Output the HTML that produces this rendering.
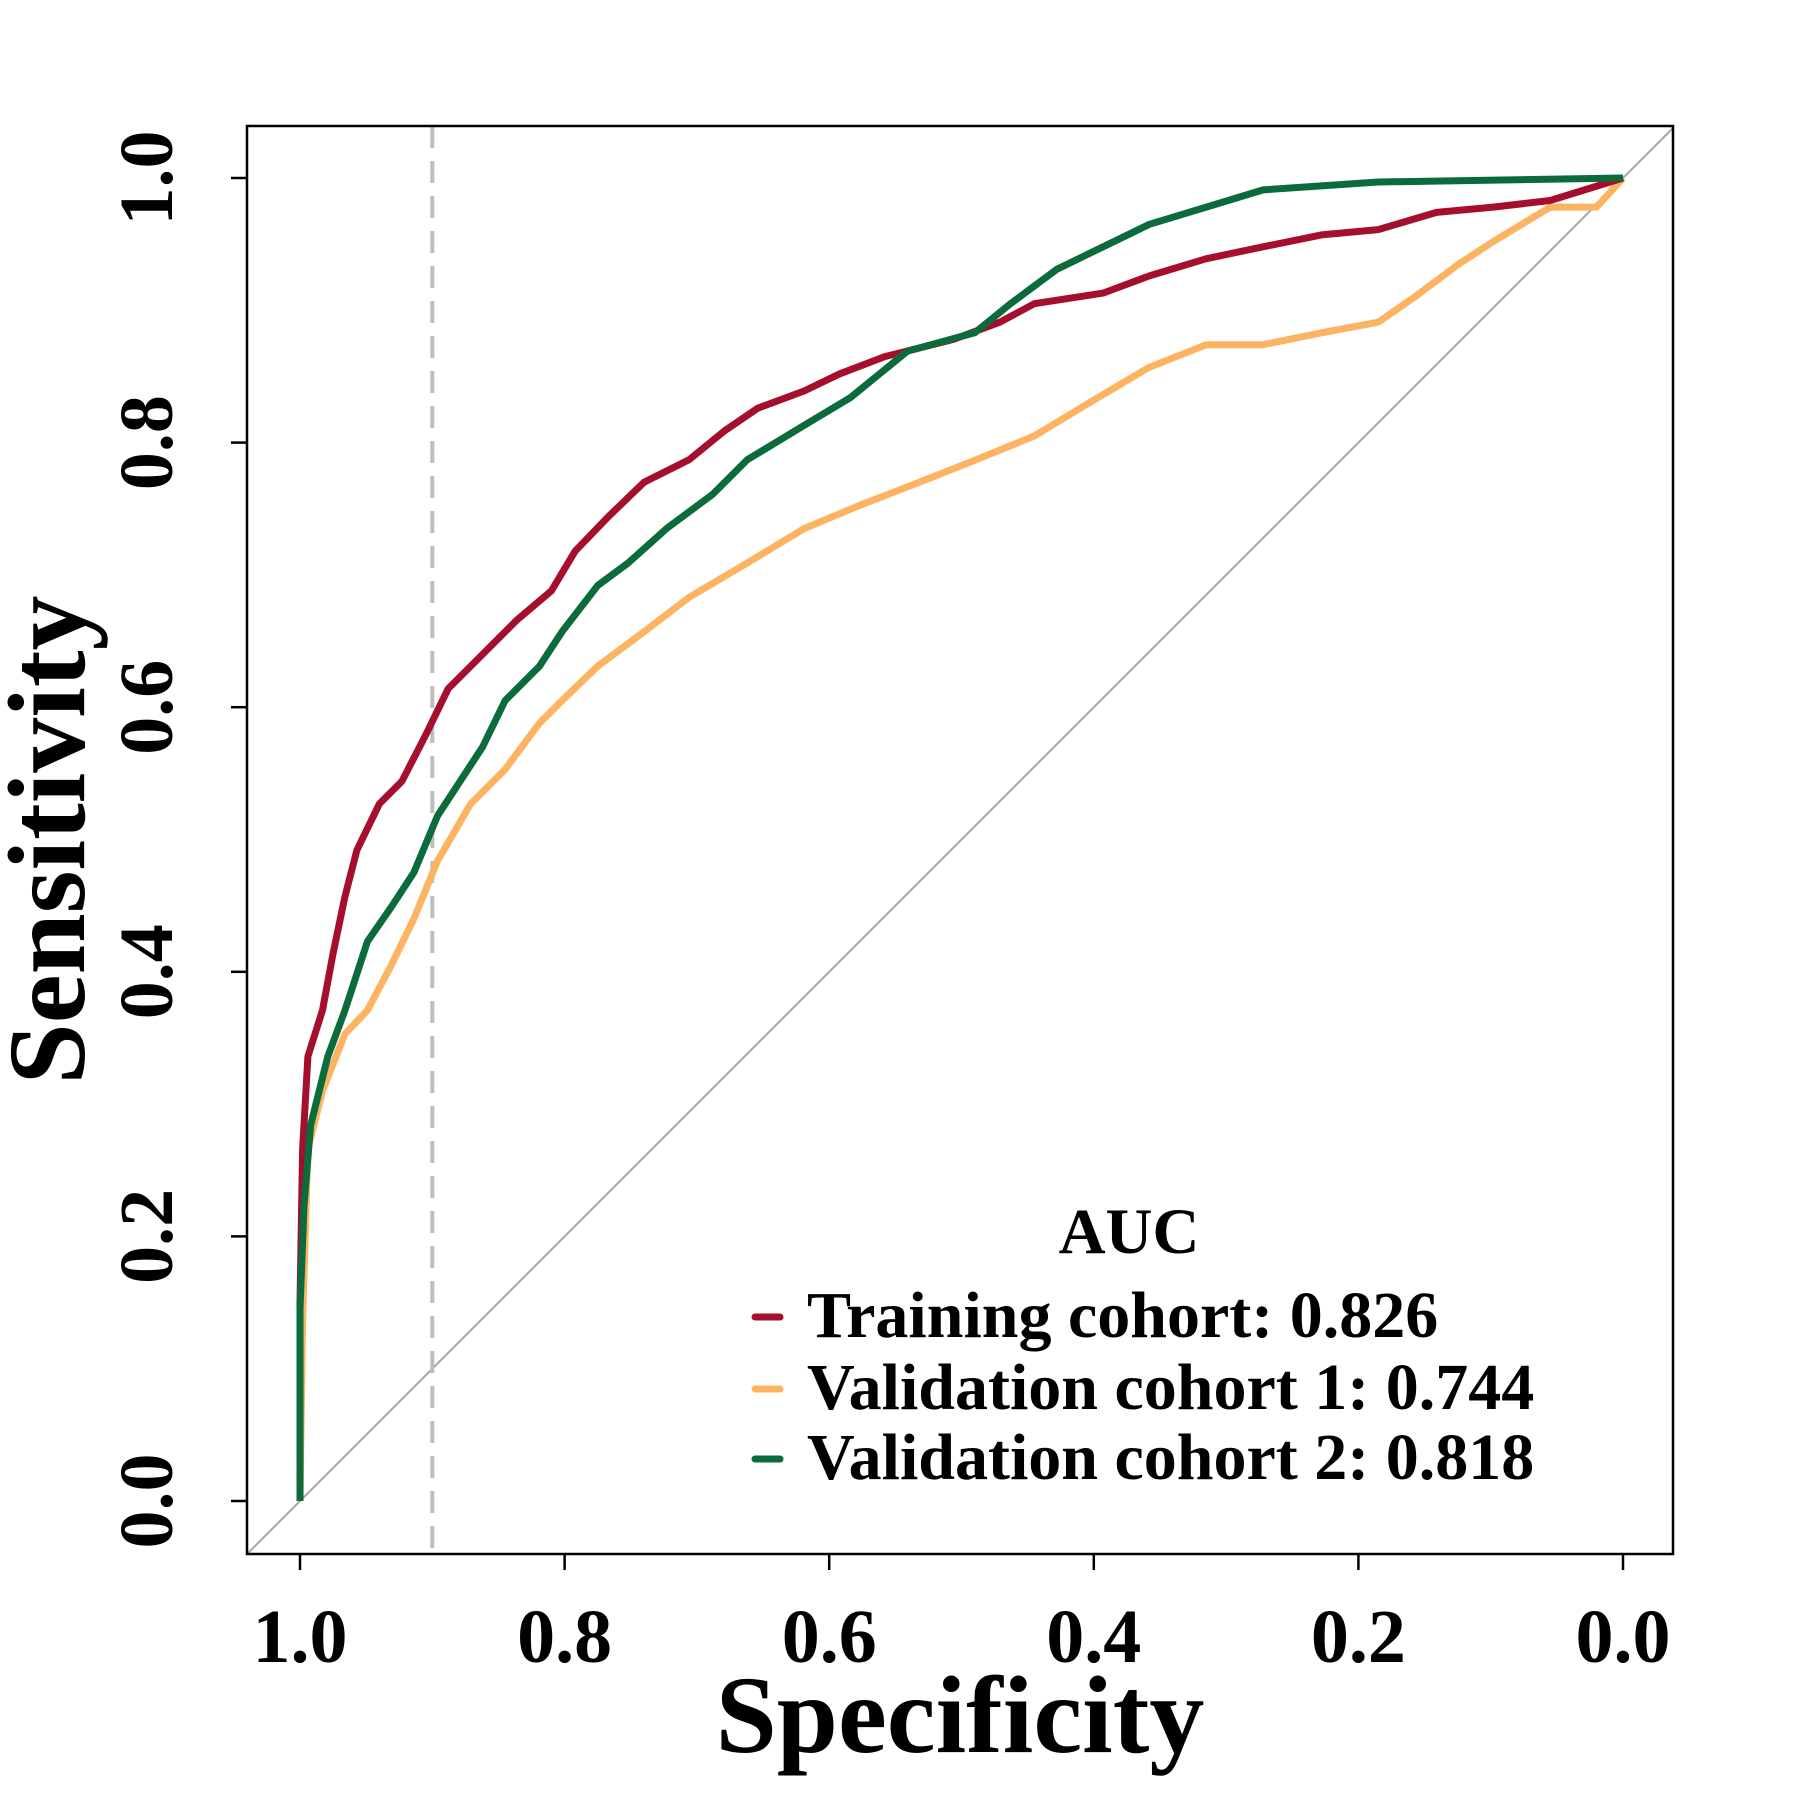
<!DOCTYPE html>
<html><head><meta charset="utf-8"><style>
html,body{margin:0;padding:0;background:#fff;}
svg{display:block;font-family:"Liberation Serif",serif;font-weight:bold;}
</style></head><body>
<svg id="chart" width="1800" height="1800" viewBox="0 0 1800 1800"></svg>
<script>
const xTicks=[1.0,0.8,0.6,0.4,0.2,0.0];
const yTicks=[0.0,0.2,0.4,0.6,0.8,1.0];
const tickLabels=["1.0","0.8","0.6","0.4","0.2","0.0"];
const yTickLabels=["0.0","0.2","0.4","0.6","0.8","1.0"];
const seriesNames=["Training cohort: 0.826","Validation cohort 1: 0.744","Validation cohort 2: 0.818"];
const trainSpec=[1,1,.998,.994,.983,.975,.966,.957,.94,.923,.905,.888,.862,.836,.81,.792,.767,.74,.706,.679,.654,.619,.592,.558,.506,.471,.445,.393,.358,.315,.272,.228,.185,.141,.098,.055,0];
const trainSens=[0,.15,.266,.336,.371,.414,.457,.492,.527,.544,.579,.614,.64,.666,.688,.718,.744,.77,.787,.809,.826,.839,.852,.865,.878,.891,.905,.913,.926,.939,.948,.957,.961,.974,.978,.983,1];
const val1Spec=[1,.998,.994,.983,.966,.949,.931,.914,.896,.871,.845,.819,.802,.775,.74,.706,.662,.619,.576,.532,.489,.445,.402,.358,.315,.272,.228,.185,.159,.124,.098,.055,.02,0];
const val1Sens=[0,.136,.266,.31,.353,.371,.405,.44,.484,.527,.553,.588,.605,.631,.657,.683,.709,.735,.753,.77,.787,.805,.831,.857,.874,.874,.883,.891,.909,.935,.952,.978,.978,1];
const val2Spec=[1,1,.997,.992,.979,.966,.949,.931,.914,.896,.879,.862,.845,.819,.802,.775,.752,.723,.688,.662,.619,.584,.541,.49,.463,.428,.393,.358,.315,.272,.185,0];
const val2Sens=[0,.145,.223,.284,.336,.371,.423,.449,.475,.518,.544,.57,.605,.631,.657,.692,.709,.735,.761,.787,.813,.834,.869,.883,.905,.931,.948,.965,.978,.991,.997,1];
const colors=["#A50F2D","#FDB462","#0B6B3A"];

const NS="http://www.w3.org/2000/svg";
const svg=document.getElementById("chart");
const X0=300,X1=1623,Y0=1501,Y1=178;
const BL=247,BR=1673,BT=126,BB=1554;
function sx(v){return X0+(1-v)*(X1-X0);}
function sy(v){return Y0-v*(Y0-Y1);}
function mk(tag,attrs,parent){const e=document.createElementNS(NS,tag);for(const k in attrs)e.setAttribute(k,attrs[k]);(parent||svg).appendChild(e);return e;}

const diag=mk("line",{x1:BL,y1:sy(-(X0-BL)/(X1-X0)),x2:BR,y2:sy(1+(BR-X1)/(X1-X0)),stroke:"#a6a6a6","stroke-width":2});



const dl=mk("line",{x1:sx(0.9),x2:sx(0.9),y1:BT,y2:BB,stroke:"#bdbdbd","stroke-width":4,"stroke-dasharray":"22,13"});



const specs=[trainSpec,val1Spec,val2Spec],senss=[trainSens,val1Sens,val2Sens];
const order=[1,0,2];
const sNames=["training-roc-curve","validation-1-roc-curve","validation-2-roc-curve"];
order.forEach(i=>{
  let pts=[];
  for(let j=0;j<specs[i].length;j++){
    pts.push(sx(specs[i][j]).toFixed(1)+","+sy(senss[i][j]).toFixed(1));
  }
  const p=mk("polyline",{points:pts.join(" "),fill:"none",stroke:colors[i],"stroke-width":7,"stroke-linejoin":"round"});
  
  
});

const box=mk("rect",{x:BL,y:BT,width:BR-BL,height:BB-BT,fill:"none",stroke:"#000","stroke-width":2.5});



xTicks.forEach((v,i)=>{
  const t=mk("line",{x1:sx(v),x2:sx(v),y1:BB,y2:BB+16,stroke:"#000","stroke-width":2.5});
  
  
  const l=mk("text",{x:sx(v),y:1662,"text-anchor":"middle","font-size":76});
  l.textContent=tickLabels[i];
  
  
});
yTicks.forEach((v,i)=>{
  const t=mk("line",{x1:BL,x2:BL-16,y1:sy(v),y2:sy(v),stroke:"#000","stroke-width":2.5});
  
  
  const l=mk("text",{x:0,y:0,"text-anchor":"middle","font-size":76,transform:"translate(172,"+sy(v)+") rotate(-90)"});
  l.textContent=yTickLabels[i];
  
  
});
const xt=mk("text",{x:960,y:1752,"text-anchor":"middle","font-size":110});
xt.textContent="Specificity";


const yt=mk("text",{x:0,y:0,"text-anchor":"middle","font-size":110,transform:"translate(84,840) rotate(-90)"});
yt.textContent="Sensitivity";



const lt=mk("text",{x:1129,y:1253,"text-anchor":"middle","font-size":65});
lt.textContent="AUC";


const ly=[1337,1409,1479];
seriesNames.forEach((n,i)=>{
  const s=mk("line",{x1:755,x2:780,y1:ly[i]-20,y2:ly[i]-20,stroke:colors[i],"stroke-width":7,"stroke-linecap":"round"});
  
  
  const t=mk("text",{x:807,y:ly[i],"font-size":66});
  t.textContent=n;
  
  
});
</script>
</body></html>
